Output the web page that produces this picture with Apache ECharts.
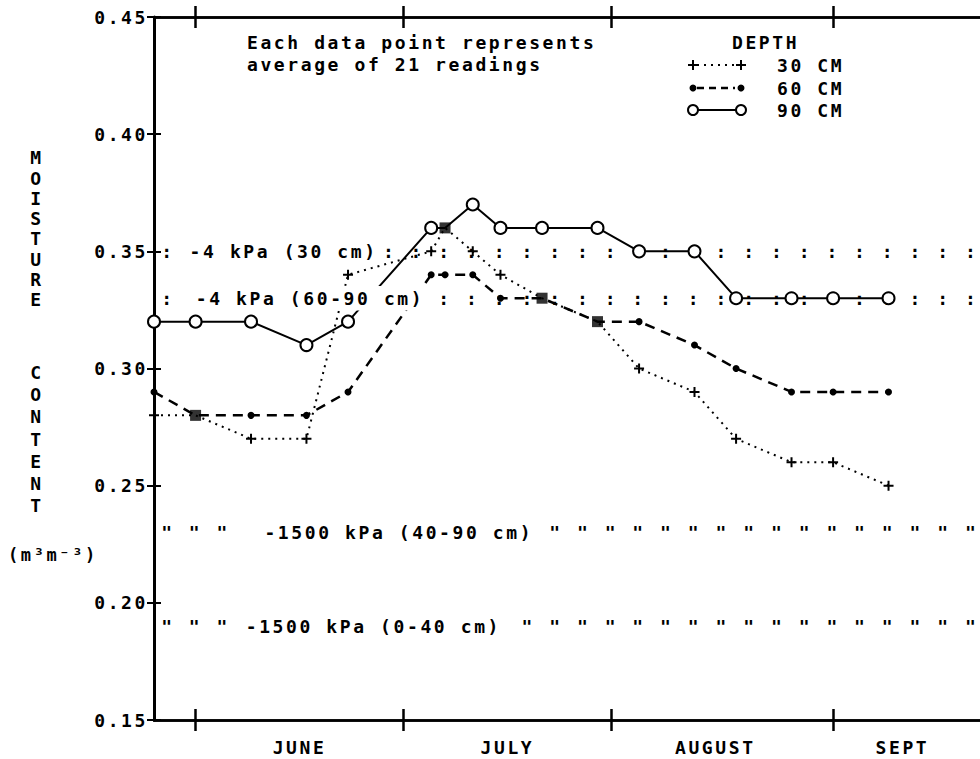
<!DOCTYPE html>
<html><head><meta charset="utf-8">
<script src="https://cdn.jsdelivr.net/npm/echarts@6/dist/echarts.min.js"></script>
<style>
html,body{margin:0;padding:0;background:#fff;}
#chart{width:980px;height:759px;}
#chart text{letter-spacing:2.6px;}
</style></head><body><div id="chart"></div>
<script>
// x values: days counted from 1 June
const sampleDays = [-6, 0, 8, 16, 22, 34, 36, 40, 44, 50, 58, 64, 72, 78, 86, 92, 100];
const depth30 = [0.28, 0.28, 0.27, 0.27, 0.34, 0.35, 0.36, 0.35, 0.34, 0.33, 0.32, 0.30, 0.29, 0.27, 0.26, 0.26, 0.25];
const depth60 = [0.29, 0.28, 0.28, 0.28, 0.29, 0.34, 0.34, 0.34, 0.33, 0.33, 0.32, 0.32, 0.31, 0.30, 0.29, 0.29, 0.29];
const depth90 = [0.32, 0.32, 0.32, 0.31, 0.32, 0.36, 0.36, 0.37, 0.36, 0.36, 0.36, 0.35, 0.35, 0.33, 0.33, 0.33, 0.33];
const seriesNames = ['30 CM', '60 CM', '90 CM'];
const monthNames = ['JUNE', 'JULY', 'AUGUST', 'SEPT'];
const monthLabelDays = [15, 45, 75, 102];
const monthTickDays = [0, 30, 60, 92];
const refLevels = [0.35, 0.33, 0.23, 0.19];
const refLabels = ['-4 kPa (30 cm)', '-4 kPa (60-90 cm)', '-1500 kPa (40-90 cm)', '-1500 kPa (0-40 cm)'];
const refLabelDays = [-1.3, -0.4, 9.5, 6.8];
const refGlyphs = [':', ':', '"', '"'];
const noteLines = ['Each data point represents', 'average of 21 readings'];
const legendTitle = 'DEPTH';
const yTitleTop = 'MOISTURE';
const yTitleBottom = 'CONTENT';
const yUnit = '(m\u00B3m\u207B\u00B3)';

const X_MIN = -6, X_MAX = 113.2;
const MARK_START = -4, MARK_STEP = 4;
const LS = 2.6;
const FF = "'DejaVu Sans Mono', monospace";
const FONT = "bold 18px " + FF;

const mc = document.createElement('canvas').getContext('2d');
function measure(text, font) {
  mc.font = font || FONT;
  const s = String(text == null ? '' : text);
  return mc.measureText(s).width + LS * s.length;
}
echarts.setPlatformAPI({
  measureText: function (text, font) { return { width: measure(text, font) }; }
});

const chart = echarts.init(document.getElementById('chart'), null, { renderer: 'svg' });

function xAx(pos, inside, withLabel) {
  return {
    type: 'value', position: pos, min: X_MIN, max: X_MAX,
    axisLine: { show: true, onZero: false, lineStyle: { color: '#000', width: 2.5 } },
    axisTick: { show: true, inside: inside, length: 11, customValues: monthTickDays, lineStyle: { color: '#000', width: 2.5 } },
    axisLabel: withLabel ? {
      show: true, customValues: monthLabelDays, margin: 17,
      fontFamily: FF, fontSize: 18, fontWeight: 'bold', color: '#000',
      formatter: function (v) { const i = monthLabelDays.indexOf(Math.round(v)); return i >= 0 ? monthNames[i] : ''; }
    } : { show: false },
    splitLine: { show: false }
  };
}
function yAx(inside, withLabel) {
  return {
    type: 'value', position: 'left', min: 0.15, max: 0.45, interval: 0.05,
    axisLine: { show: withLabel, onZero: false, lineStyle: { color: '#000', width: 3 } },
    axisTick: { show: true, inside: inside, length: 7, lineStyle: { color: '#000', width: 2 } },
    axisLabel: withLabel ? { show: true, margin: 6, fontFamily: FF, fontSize: 18, fontWeight: 'bold', color: '#000', formatter: function (v) { return v.toFixed(2); } } : { show: false },
    splitLine: { show: false }
  };
}

// points where two depths share the same reading on the same day are drawn as squares
const allSeries = [depth30, depth60, depth90];
const coincident = [];
const isShared = allSeries.map(function () { return sampleDays.map(function () { return false; }); });
sampleDays.forEach(function (d, i) {
  for (let a = 0; a < 3; a++) for (let b = a + 1; b < 3; b++) {
    if (Math.abs(allSeries[a][i] - allSeries[b][i]) < 1e-9) {
      coincident.push([d, allSeries[a][i]]);
      isShared[a][i] = true; isShared[b][i] = true;
    }
  }
});
function pts(k) {
  return sampleDays.map(function (d, i) {
    const item = { value: [d, allSeries[k][i]] };
    if (isShared[k][i]) item.symbol = 'none';
    return item;
  });
}

const plusPath = 'path://M4 0H6V4H10V6H6V10H4V6H0V4H4Z';

const graphics = [];
graphics.push({ type: 'text', x: 37, y: 147.6, style: { text: yTitleTop.split('').join('\n'), font: FONT, fill: '#000', align: 'center', verticalAlign: 'top', lineHeight: 20.3 } });
graphics.push({ type: 'text', x: 37, y: 361, style: { text: yTitleBottom.split('').join('\n'), font: FONT, fill: '#000', align: 'center', verticalAlign: 'top', lineHeight: 22.3 } });
graphics.push({ type: 'text', x: 8, y: 555, style: { text: yUnit, font: "bold 17px " + FF, fill: '#000', align: 'left', verticalAlign: 'middle' } });
graphics.push({ type: 'text', x: 247, y: 42, style: { text: noteLines[0], font: FONT, fill: '#000', verticalAlign: 'middle' } });
graphics.push({ type: 'text', x: 247, y: 64, style: { text: noteLines[1], font: FONT, fill: '#000', verticalAlign: 'middle' } });
graphics.push({ type: 'text', x: 732, y: 42, style: { text: legendTitle, font: FONT, fill: '#000', verticalAlign: 'middle' } });
const legY = [65, 88, 110];
seriesNames.forEach(function (n, i) {
  graphics.push({ type: 'text', x: 777, y: legY[i], style: { text: n, font: FONT, fill: '#000', verticalAlign: 'middle' } });
});
graphics.push({ type: 'line', shape: { x1: 697, y1: 65, x2: 737, y2: 65 }, style: { stroke: '#000', lineWidth: 2, lineDash: [2, 5] } });
[693, 741].forEach(function (x) {
  graphics.push({ type: 'rect', shape: { x: x - 5, y: 64, width: 10, height: 2 }, style: { fill: '#000' } });
  graphics.push({ type: 'rect', shape: { x: x - 1, y: 60, width: 2, height: 10 }, style: { fill: '#000' } });
});
graphics.push({ type: 'line', shape: { x1: 697, y1: 88, x2: 735, y2: 88 }, style: { stroke: '#000', lineWidth: 2.5, lineDash: [7, 5] } });
[693, 741].forEach(function (x) {
  graphics.push({ type: 'circle', shape: { cx: x, cy: 88, r: 3.5 }, style: { fill: '#000' } });
});
graphics.push({ type: 'line', shape: { x1: 693, y1: 110, x2: 741, y2: 110 }, style: { stroke: '#000', lineWidth: 2 } });
[693, 741].forEach(function (x) {
  graphics.push({ type: 'circle', z: 10, shape: { cx: x, cy: 110, r: 5 }, style: { fill: '#fff', stroke: '#000', lineWidth: 2 } });
});

const refData = refLevels.map(function (v, i) { return [refLabelDays[i], v]; });

const option = {
  animation: false,
  backgroundColor: '#fff',
  textStyle: { fontFamily: FF },
  grid: { left: 154, right: 0, top: 17, bottom: 39, containLabel: false },
  xAxis: [xAx('bottom', false, true), xAx('bottom', true, false), xAx('top', false, false), xAx('top', true, false)],
  yAxis: [yAx(false, true), yAx(true, false)],
  graphic: graphics,
  series: [
    {
      name: 'ref marks', type: 'custom', z: 1, clip: false, data: refData,
      renderItem: function (params, api) {
        const i = params.dataIndex;
        const level = api.value(1);
        const lp = api.coord([api.value(0), level]);
        const lw = measure(refLabels[i], FONT);
        const kids = [];
        for (let d = MARK_START; d <= X_MAX; d += MARK_STEP) {
          const p = api.coord([d, level]);
          if (p[0] > lp[0] - 14 && p[0] < lp[0] + lw + 8) continue;
          kids.push({ type: 'text', x: p[0], y: p[1], style: { text: refGlyphs[i], font: FONT, fill: '#000', align: 'center', verticalAlign: 'middle' } });
        }
        return { type: 'group', children: kids };
      }
    },
    {
      name: 'ref labels', type: 'custom', z: 6, clip: false, data: refData,
      renderItem: function (params, api) {
        const i = params.dataIndex;
        const lp = api.coord([api.value(0), api.value(1)]);
        return { type: 'text', x: lp[0], y: lp[1], style: { text: refLabels[i], font: FONT, fill: '#000', align: 'left', verticalAlign: 'middle', backgroundColor: '#fff', padding: [2, 3, 2, 3] } };
      }
    },
    {
      name: seriesNames[0], type: 'line', z: 2, clip: false, data: pts(0),
      symbol: plusPath, symbolSize: 10, showSymbol: true,
      itemStyle: { color: '#000' },
      lineStyle: { color: '#000', width: 2, type: [2, 5] }
    },
    {
      name: seriesNames[1], type: 'line', z: 2, clip: false, data: pts(1),
      symbol: 'circle', symbolSize: 7, showSymbol: true,
      itemStyle: { color: '#000' },
      lineStyle: { color: '#000', width: 2.5, type: [10, 7] }
    },
    {
      name: seriesNames[2], type: 'line', z: 2, clip: false, data: pts(2),
      symbol: 'circle', symbolSize: 12, showSymbol: true,
      itemStyle: { color: '#fff', borderColor: '#000', borderWidth: 2 },
      lineStyle: { color: '#000', width: 2 }
    },
    {
      name: 'coincident', type: 'scatter', z: 5, clip: false, data: coincident,
      symbol: 'rect', symbolSize: 11, itemStyle: { color: '#000' }
    }
  ]
};
chart.setOption(option);
</script>
</body></html>
